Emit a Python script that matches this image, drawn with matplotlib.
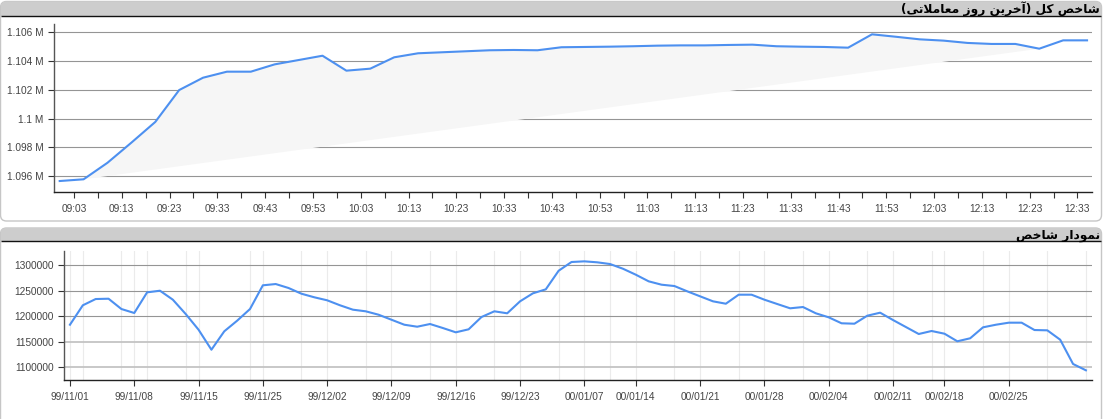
import matplotlib
matplotlib.use("Agg")
import matplotlib.pyplot as plt
from matplotlib.patches import FancyBboxPatch, Rectangle
from matplotlib.ticker import FixedLocator, FuncFormatter

# ---------------- data ----------------
intraday_title = "شاخص کل (آخرین روز معاملاتی)"
daily_title = "نمودار شاخص"

intraday_times = ["09:00", "09:05", "09:10", "09:15", "09:20", "09:25", "09:30", "09:35",
                  "09:40", "09:45", "09:50", "09:55", "10:00", "10:05", "10:10", "10:15",
                  "10:20", "10:25", "10:30", "10:35", "10:40", "10:45", "10:50", "10:55",
                  "11:00", "11:05", "11:10", "11:15", "11:20", "11:25", "11:30", "11:35",
                  "11:40", "11:45", "11:50", "11:55", "12:00", "12:05", "12:10", "12:15",
                  "12:20", "12:25", "12:30", "12:35"]
intraday_values = [1095650, 1095770, 1096920, 1098320, 1099760, 1101980, 1102840, 1103260,
                   1103260, 1103770, 1104070, 1104370, 1103330, 1103470, 1104260, 1104540,
                   1104610, 1104680, 1104750, 1104770, 1104750, 1104960, 1104980, 1105000,
                   1105030, 1105070, 1105090, 1105090, 1105120, 1105140, 1105030, 1105000,
                   1104980, 1104930, 1105860, 1105690, 1105510, 1105420, 1105260, 1105190,
                   1105190, 1104860, 1105440, 1105440]
intraday_tick_labels = ["09:03", "09:13", "09:23", "09:33", "09:43", "09:53", "10:03", "10:13",
                        "10:23", "10:33", "10:43", "10:53", "11:03", "11:13", "11:23", "11:33",
                        "11:43", "11:53", "12:03", "12:13", "12:23", "12:33"]
intraday_yticks = [1096000, 1098000, 1100000, 1102000, 1104000, 1106000]

daily_values = [1183500, 1221600, 1233900, 1234500, 1214300, 1206500, 1247000, 1250200,
                1232600, 1204500, 1173700, 1134500, 1170600, 1191400, 1214300, 1260800,
                1263300, 1255500, 1244300, 1237300, 1231400, 1221600, 1213000, 1209800,
                1203100, 1193300, 1183500, 1179600, 1184900, 1177000, 1168600, 1174500,
                1198600, 1209800, 1205900, 1229400, 1245100, 1252900, 1289400, 1306500,
                1307800, 1305900, 1302500, 1293300, 1281600, 1268600, 1262000, 1259400,
                1249000, 1239200, 1229400, 1224700, 1242400, 1242400, 1232600, 1224100,
                1215700, 1218200, 1205900, 1198000, 1186300, 1185500, 1201200, 1207100,
                1192700, 1179000, 1165300, 1171200, 1165900, 1151000, 1156900, 1178400,
                1183500, 1187500, 1187500, 1173100, 1172500, 1154100, 1106500, 1094100]
daily_tick_labels = ["99/11/01", "99/11/08", "99/11/15", "99/11/25", "99/12/02", "99/12/09",
                     "99/12/16", "99/12/23", "00/01/07", "00/01/14", "00/01/21", "00/01/28",
                     "00/02/04", "00/02/11", "00/02/18", "00/02/25"]
daily_tick_index = [0, 5, 10, 15, 20, 25, 30, 35, 40, 44, 49, 54, 59, 64, 68, 73]
daily_minor_grid_index = [1, 4, 6, 9, 14, 18, 23, 28, 33, 38, 42, 47, 52, 57, 62, 67, 71, 76, 79]
daily_yticks = [1100000, 1150000, 1200000, 1250000, 1300000]

# ---------------- simple Persian shaping (presentation forms, visual order) ----------------
FORMS = {
    '\u0627': ('\uFE8D', '\uFE8E', None, None),
    '\u0622': ('\uFE81', '\uFE82', None, None),
    '\u062A': ('\uFE95', '\uFE96', '\uFE97', '\uFE98'),
    '\u062E': ('\uFEA5', '\uFEA6', '\uFEA7', '\uFEA8'),
    '\u062F': ('\uFEA9', '\uFEAA', None, None),
    '\u0631': ('\uFEAD', '\uFEAE', None, None),
    '\u0632': ('\uFEAF', '\uFEB0', None, None),
    '\u0634': ('\uFEB5', '\uFEB6', '\uFEB7', '\uFEB8'),
    '\u0635': ('\uFEB9', '\uFEBA', '\uFEBB', '\uFEBC'),
    '\u0639': ('\uFEC9', '\uFECA', '\uFECB', '\uFECC'),
    '\u0644': ('\uFEDD', '\uFEDE', '\uFEDF', '\uFEE0'),
    '\u0645': ('\uFEE1', '\uFEE2', '\uFEE3', '\uFEE4'),
    '\u0646': ('\uFEE5', '\uFEE6', '\uFEE7', '\uFEE8'),
    '\u0648': ('\uFEED', '\uFEEE', None, None),
    '\u06A9': ('\uFB8E', '\uFB8F', '\uFB90', '\uFB91'),
    '\u06CC': ('\uFBFC', '\uFBFD', '\uFBFE', '\uFBFF'),
}
LAM_ALEF = {'\u0627': ('\uFEFB', '\uFEFC', None, None), '\u0622': ('\uFEF5', '\uFEF6', None, None)}


def shape(s):
    units = []
    i = 0
    while i < len(s):
        c = s[i]
        if c == '\u0644' and i + 1 < len(s) and s[i + 1] in LAM_ALEF:
            units.append(LAM_ALEF[s[i + 1]])
            i += 2
            continue
        units.append(FORMS.get(c, c))
        i += 1
    out = []
    for k, u in enumerate(units):
        if isinstance(u, str):
            out.append(u)
            continue
        prev = units[k - 1] if k > 0 else None
        nxt = units[k + 1] if k + 1 < len(units) else None
        jp = isinstance(prev, tuple) and prev[2] is not None
        jn = u[2] is not None and isinstance(nxt, tuple)
        if jp and jn:
            out.append(u[3])
        elif jp:
            out.append(u[1])
        elif jn:
            out.append(u[2])
        else:
            out.append(u[0])
    mirror = {'(': ')', ')': '('}
    return ''.join(mirror.get(ch, ch) for ch in reversed(out))


def to_min(t):
    h, m = t.split(":")
    return (int(h) - 9) * 60 + int(m)


# ---------------- figure ----------------
plt.rcParams['font.family'] = ['Liberation Sans', 'DejaVu Sans']
W, H = 1109, 419
fig = plt.figure(figsize=(W / 100, H / 100), dpi=100)
fig.patch.set_facecolor('white')

bg = fig.add_axes([0, 0, 1, 1], zorder=0)
bg.set_xlim(0, W)
bg.set_ylim(H, 0)
bg.axis('off')


def panel(y0, h, hdr_bottom, title):
    box = FancyBboxPatch((0.5, y0), 1101, h, boxstyle="round,pad=0,rounding_size=6",
                         fc='white', ec='#c6c6c6', lw=1.0)
    bg.add_patch(box)
    hdr = Rectangle((0.5, y0), 1101, hdr_bottom - y0, fc='#cdcdcd', ec='none')
    bg.add_patch(hdr)
    hdr.set_clip_path(box)
    bg.plot([1, 1101], [hdr_bottom, hdr_bottom], color='#111111', lw=1.0,
            solid_capstyle='butt')
    bg.text(1100, hdr_bottom - 2.5, shape(title), ha='right', va='baseline',
            fontsize=8.8, fontweight='bold', color='black', family=['DejaVu Sans'])


panel(1.5, 219.5, 16, intraday_title)
panel(228, 220, 241, daily_title)

TICK_COLOR = '#444444'
LINE_COLOR = '#4d90f0'


def px_axes(left, top, right, bottom):
    return fig.add_axes([left / W, (H - bottom) / H, (right - left) / W, (bottom - top) / H],
                        zorder=1)


# ---------------- top: intraday ----------------
ax1 = px_axes(54, 24, 1092.3, 191.7)
ax1.patch.set_alpha(0)
xm = [to_min(t) for t in intraday_times]
k1, k2 = 1, 41
ax1.fill(xm[k1:k2 + 1], intraday_values[k1:k2 + 1], color='#f6f6f6', lw=0, zorder=1)
ax1.plot(xm, intraday_values, color=LINE_COLOR, lw=1.5, zorder=3, solid_joinstyle='round')
ax1.set_xlim(-1.19, 216.1)
ax1.set_ylim(1094907, 1106578)
major = [to_min(t) for t in intraday_tick_labels]
ax1.xaxis.set_major_locator(FixedLocator(major))
ax1.set_xticklabels(intraday_tick_labels)
ax1.xaxis.set_minor_locator(FixedLocator([m + 5 for m in major[:-1]]))
ax1.yaxis.set_major_locator(FixedLocator(intraday_yticks))
ax1.yaxis.set_major_formatter(FuncFormatter(lambda v, p: f"{v / 1e6:g} M"))
ax1.grid(axis='y', color='#959595', lw=0.8, zorder=0)

# ---------------- bottom: daily ----------------
ax2 = px_axes(64.3, 251.3, 1091.7, 380.3)
ax2.patch.set_alpha(0)
idx = list(range(len(daily_values)))
for g in daily_minor_grid_index + daily_tick_index:
    ax2.axvline(g, color='#ebebeb', lw=0.8, zorder=0)
ax2.plot(idx, daily_values, color=LINE_COLOR, lw=1.5, zorder=3, solid_joinstyle='round')
ax2.set_xlim(-0.44, 79.45)
ax2.set_ylim(1074500, 1327500)
ax2.xaxis.set_major_locator(FixedLocator(daily_tick_index))
ax2.set_xticklabels(daily_tick_labels)
ax2.yaxis.set_major_locator(FixedLocator(daily_yticks))
ax2.yaxis.set_major_formatter(FuncFormatter(lambda v, p: f"{int(v)}"))
for v in daily_yticks:
    light = v < 1200000
    ax2.axhline(v, color='#c4c4c4' if light else '#959595', lw=1.3 if light else 0.8, zorder=1)

for ax in (ax1, ax2):
    ax.set_axisbelow(True)
    for s in ('top', 'right'):
        ax.spines[s].set_visible(False)
    ax.spines['left'].set_color('#555555')
    ax.spines['bottom'].set_color('#222222')
    ax.spines['left'].set_linewidth(1.0)
    ax.spines['bottom'].set_linewidth(1.0)
    ax.tick_params(axis='both', which='both', length=4.5, width=0.8, color='#333333',
                   labelsize=7.3, labelcolor=TICK_COLOR)
    ax.tick_params(axis='y', pad=3)
    ax.tick_params(axis='x', pad=4)

fig.savefig('out.png', dpi=100, facecolor='white')
